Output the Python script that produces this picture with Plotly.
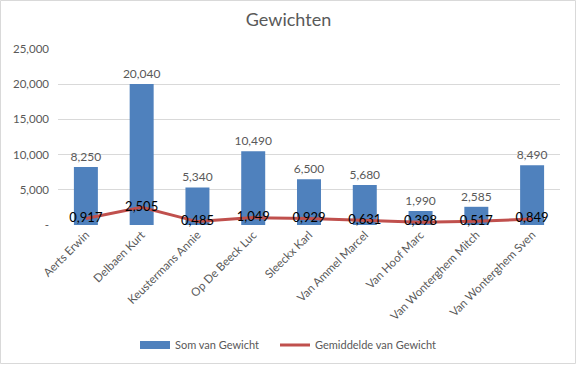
import plotly.graph_objects as go

categories = ["Aerts Erwin", "Delbaen Kurt", "Keustermans Annie", "Op De Beeck Luc",
              "Sleeckx Karl", "Van Ammel Marcel", "Van Hoof Marc",
              "Van Wonterghem Mitch", "Van Wonterghem Sven"]
som_gewicht = [8250, 20040, 5340, 10490, 6500, 5680, 1990, 2585, 8490]
gem_gewicht = [917, 2505, 485, 1049, 929, 631, 398, 517, 849]
gem_labels = ["0,917", "2,505", "0,485", "1,049", "0,929", "0,631", "0,398", "0,517", "0,849"]
y_ticks = [0, 5000, 10000, 15000, 20000, 25000]
y_tick_labels = ["-", "5,000", "10,000", "15,000", "20,000", "25,000"]

FONT = "Lato"
GRAY = "#595959"
BLUE = "#4F81BD"
RED = "#C0504D"
W, H = 577, 365
ML, MR, MT, MB = 58, 17, 49, 140
PW, PH = W - ML - MR, H - MT - MB

fig = go.Figure()
fig.add_trace(go.Bar(
    x=categories, y=som_gewicht, name="Som van Gewicht", showlegend=False,
    marker=dict(color=BLUE, line=dict(width=0)),
    text=[f"{v:,}" for v in som_gewicht], textposition="outside",
    constraintext="none",
    textfont=dict(color=GRAY, size=12, family=FONT), cliponaxis=False,
))
fig.add_trace(go.Scatter(
    x=categories, y=gem_gewicht, name="Gemiddelde van Gewicht", legend="legend2",
    mode="lines+text", line=dict(color=RED, width=3),
    text=gem_labels, textposition="middle center",
    textfont=dict(color="#000000", size=13, family=FONT), cliponaxis=False,
))
# legend swatch for the bar series (wide rectangle like the original)
fig.add_trace(go.Scatter(
    x=[None], y=[None], name="Som van Gewicht", legend="legend",
    mode="lines", line=dict(color=BLUE, width=8), showlegend=True,
))

legend_common = dict(orientation="h", xref="container", xanchor="left",
                     yref="container", y=0.055, yanchor="middle",
                     bgcolor="rgba(0,0,0,0)",
                     font=dict(size=11, color=GRAY, family=FONT))

fig.update_layout(
    width=W, height=H,
    paper_bgcolor="white", plot_bgcolor="white",
    font=dict(family=FONT, color=GRAY, size=11),
    title=dict(text="Gewichten", x=0.5, xanchor="center", y=0.945, yanchor="middle",
               font=dict(size=18, color=GRAY, family=FONT)),
    margin=dict(l=ML, r=MR, t=MT, b=MB, autoexpand=False),
    bargap=0.57,
    showlegend=True,
    legend=dict(x=135 / W, **legend_common),
    legend2=dict(x=275 / W, **legend_common),
    xaxis=dict(tickangle=-45, showgrid=False, showline=False, ticks="", automargin=False,
               tickfont=dict(size=11.5, color=GRAY, family=FONT)),
    yaxis=dict(range=[0, 25000], tickvals=y_ticks, ticktext=y_tick_labels,
               showgrid=True, gridcolor="#D9D9D9", gridwidth=1, zeroline=False,
               showline=False, ticks="", automargin=False, ticklabelstandoff=8,
               tickfont=dict(size=11.5, color=GRAY, family=FONT)),
)
fig.add_shape(type="rect", xref="x domain", yref="y domain",
              x0=(0.5 - ML) / PW, x1=(W - 1.5 - ML) / PW,
              y0=(MT + PH - (H - 1.5)) / PH, y1=(MT + PH - 0.5) / PH,
              line=dict(color="#D9D9D9", width=1), layer="below")
fig.write_html("out.html", config={"displayModeBar": False},
               post_script="document.body.style.margin='0';document.body.style.overflow='hidden';")
